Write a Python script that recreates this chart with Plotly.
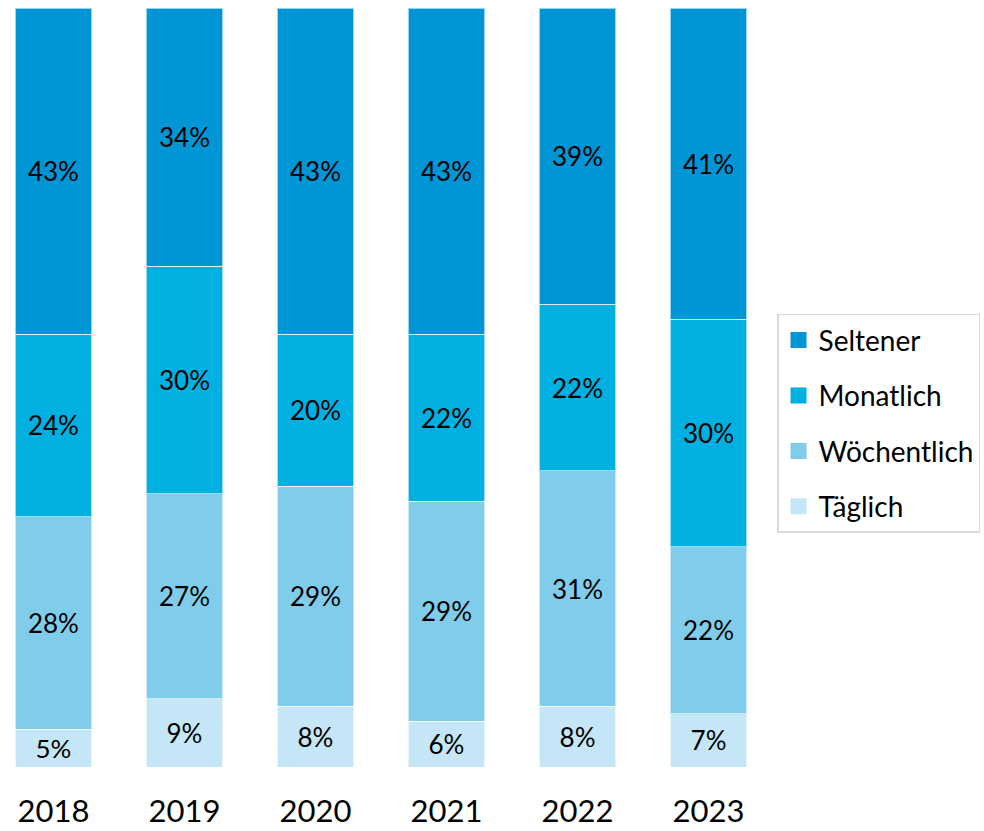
import plotly.graph_objects as go

years = ["2018", "2019", "2020", "2021", "2022", "2023"]
taeglich = [5, 9, 8, 6, 8, 7]
woechentlich = [28, 27, 29, 29, 31, 22]
monatlich = [24, 30, 20, 22, 22, 30]
seltener = [43, 34, 43, 43, 39, 41]

series = [
    ("Täglich", taeglich, "#C5E6F6"),
    ("Wöchentlich", woechentlich, "#80CCEB"),
    ("Monatlich", monatlich, "#00B0E0"),
    ("Seltener", seltener, "#0096D6"),
]

FONT = "Lato, 'Open Sans', sans-serif"

fig = go.Figure()
for name, vals, col in series:
    fig.add_trace(go.Bar(
        x=years, y=vals, name=name,
        marker=dict(color=col, line=dict(color="rgba(255,255,255,0.6)", width=1)),
        text=[f"{v}%" for v in vals],
        textposition="inside", insidetextanchor="middle",
        textfont=dict(color="black", size=26, family=FONT),
        width=0.585, showlegend=False,
        hoverinfo="skip",
    ))

# legend entries (square swatches)
for rank, (name, vals, col) in enumerate(reversed(series)):
    fig.add_trace(go.Scatter(
        x=[None], y=[None], mode="markers", name=name,
        marker=dict(symbol="square", size=18, color=col),
        legendgroup=name, legendrank=rank + 1, showlegend=True,
    ))

fig.update_layout(
    barmode="stack",
    width=984, height=831,
    margin=dict(l=0, r=224, t=8, b=64, autoexpand=False),
    paper_bgcolor="white", plot_bgcolor="white",
    font=dict(family=FONT, color="black"),
    showlegend=True,
    legend=dict(
        x=1.0224, xanchor="left", y=0.597, yanchor="top",
        traceorder="grouped", tracegroupgap=16,
        font=dict(size=28, family=FONT),
        bordercolor="#d9d9d9", borderwidth=1.5,
        itemsizing="trace", itemwidth=30,
    ),
    xaxis=dict(
        type="category", range=[-0.408, 5.393],
        showline=False, showgrid=False, zeroline=False, ticks="",
        tickfont=dict(size=31, family=FONT), ticklabelstandoff=23,
    ),
    yaxis=dict(range=[0, 100], visible=False, showgrid=False, zeroline=False),
)

fig.write_html("out.html", config={"displayModeBar": False},
               post_script="document.body.style.margin='0';")
